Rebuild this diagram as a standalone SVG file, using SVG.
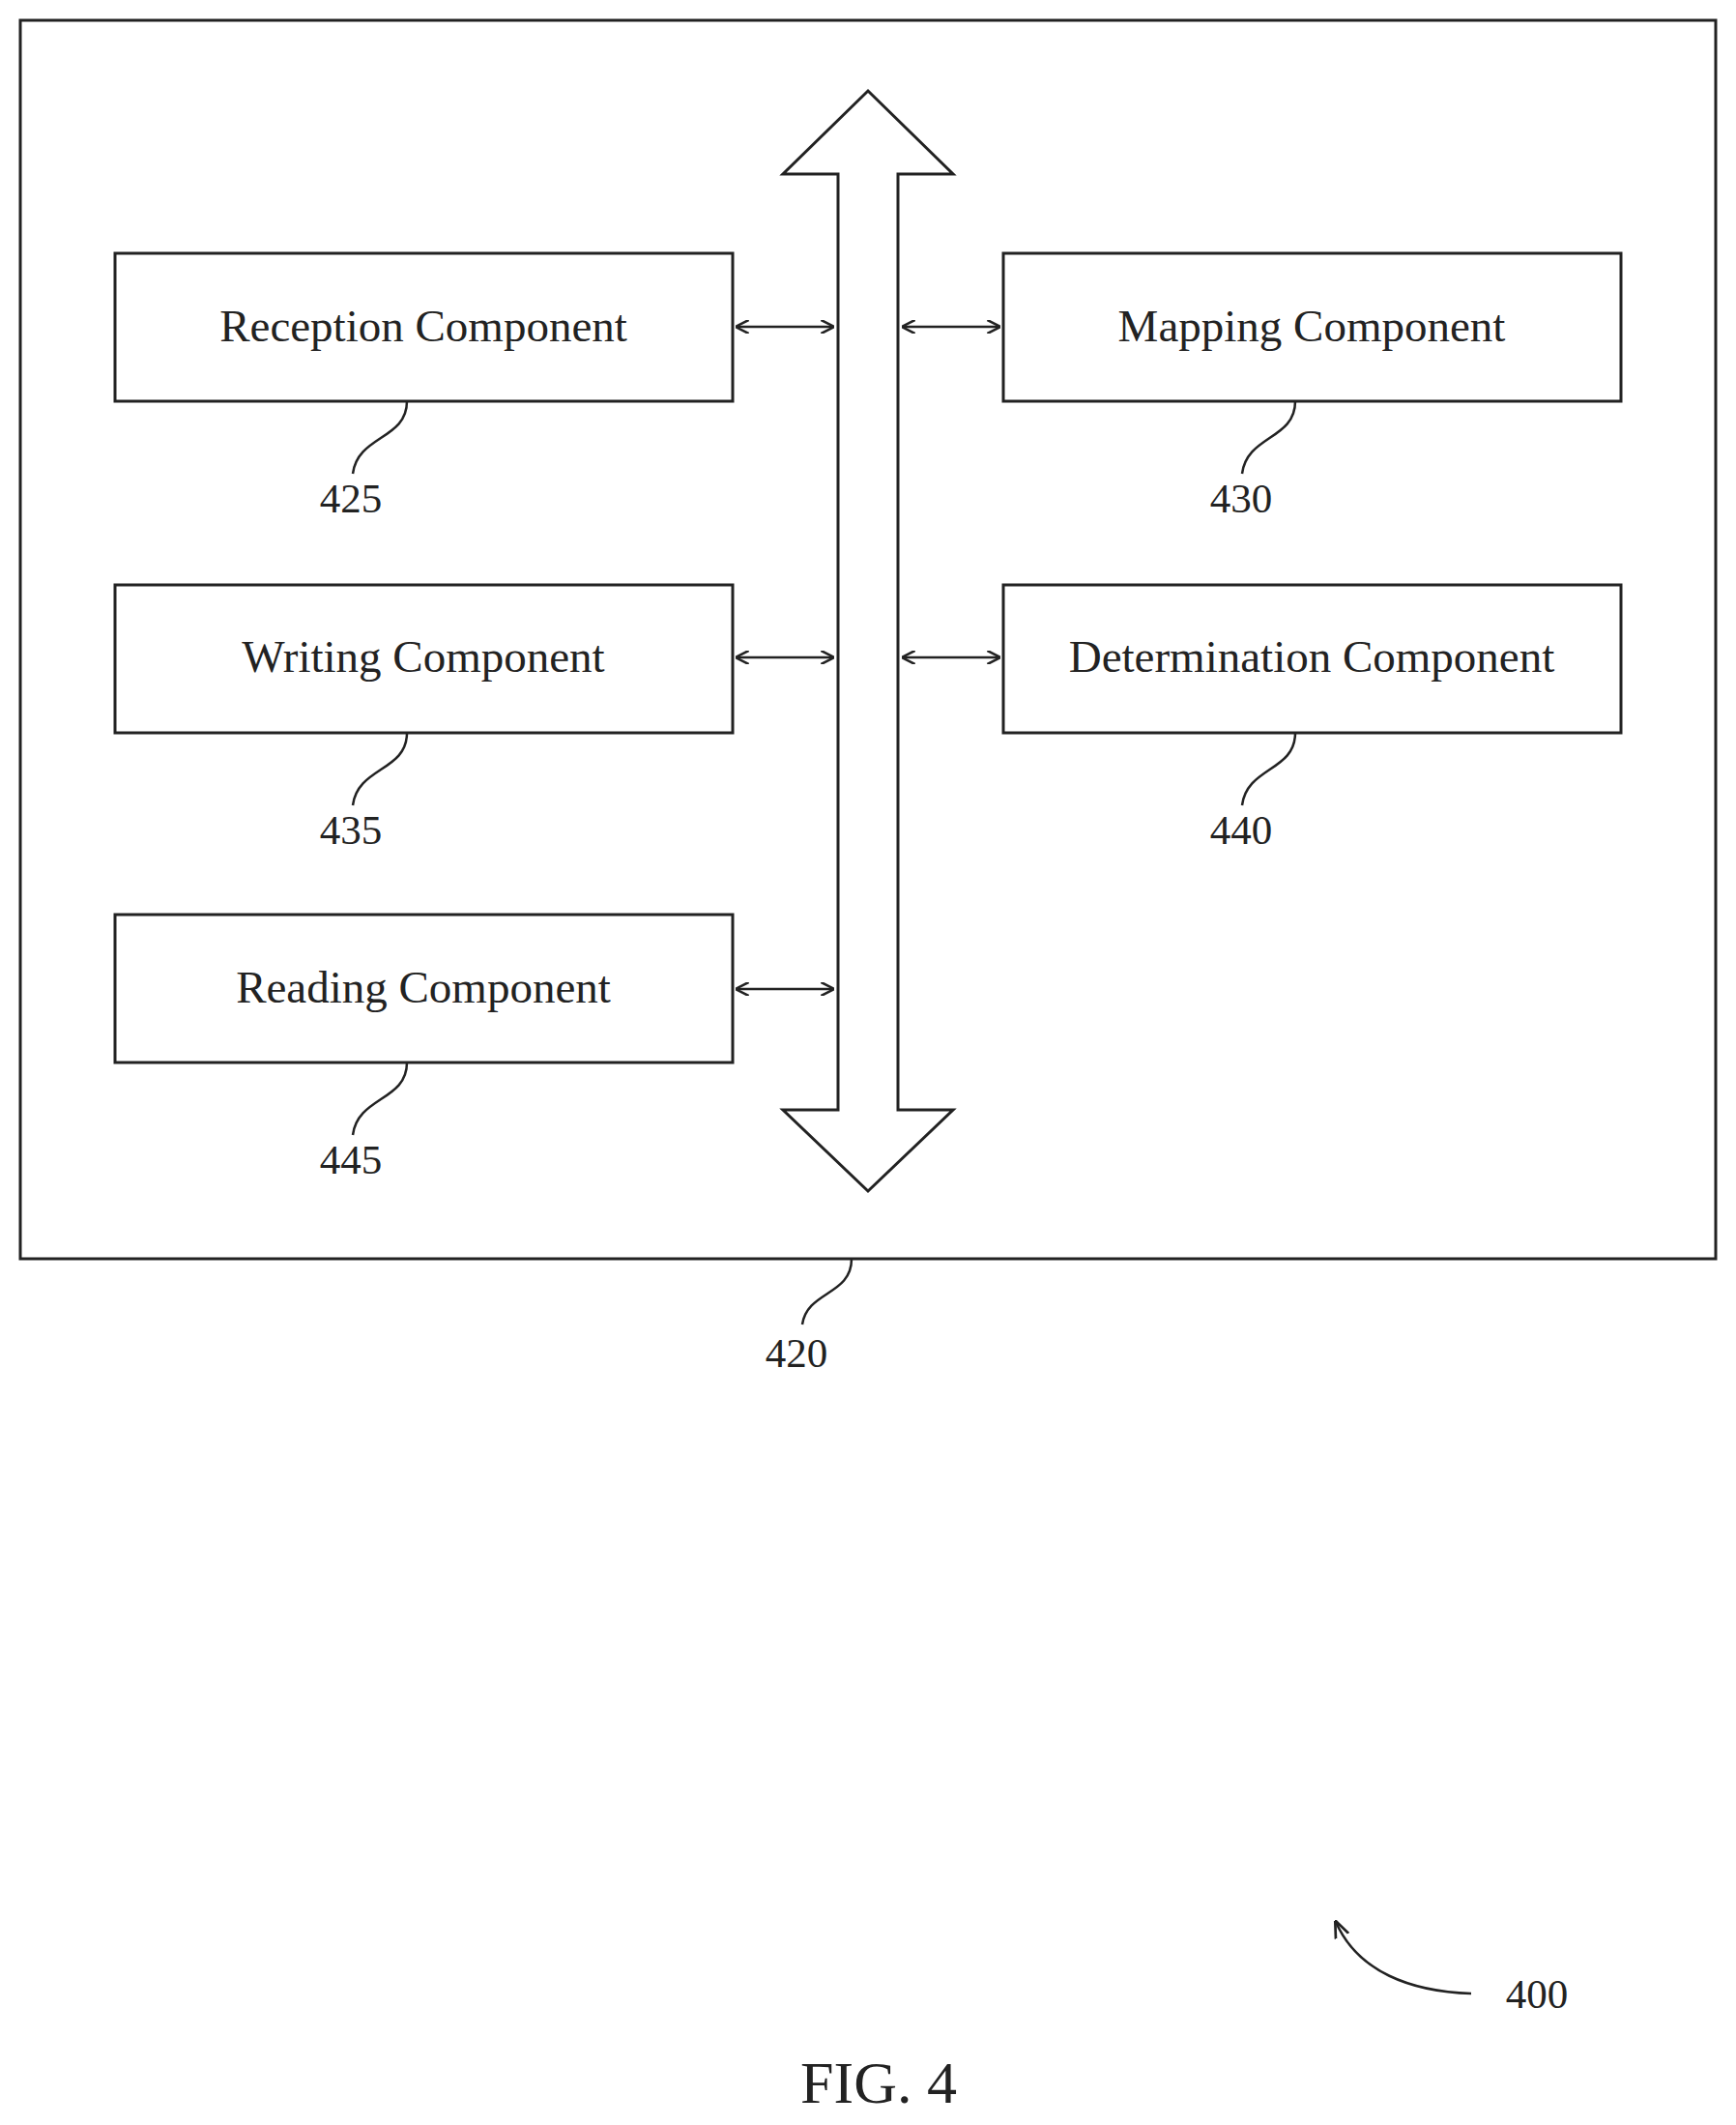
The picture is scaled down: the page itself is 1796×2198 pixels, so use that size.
<svg xmlns="http://www.w3.org/2000/svg" width="1796" height="2198" viewBox="0 0 1796 2198">
<style>
.b{fill:#fff;stroke:#222;stroke-width:3}
.t{font-family:"Liberation Serif",serif;font-size:47px;fill:#222;text-anchor:middle}
.n{font-family:"Liberation Serif",serif;font-size:43px;fill:#222;text-anchor:middle}
.l{fill:none;stroke:#222;stroke-width:2.5}
</style>
<defs>
<marker id="a" viewBox="0 0 10 10" refX="9" refY="5" markerWidth="14" markerHeight="14" orient="auto-start-reverse" markerUnits="userSpaceOnUse"><path d="M0,0 L10,5 L0,10" fill="none" stroke="#222" stroke-width="1.8"/></marker>
<marker id="h" viewBox="0 0 10 10" refX="9" refY="5" markerWidth="18" markerHeight="18" orient="auto" markerUnits="userSpaceOnUse"><path d="M0,1 L10,5 L0,9" fill="none" stroke="#222" stroke-width="1.5"/></marker>
</defs>
<rect width="1796" height="2198" fill="#fff"/>
<g id="n420"><rect class="b" x="21" y="21" width="1754" height="1281"/>
<path class="l" d="M881,1302 C881,1340 835,1335 830,1370"/><text class="n" x="824" y="1414">420</text></g>
<g id="bus"><path class="b" d="M898,94 L986,180 L929,180 L929,1148 L986,1148 L898,1232 L810,1148 L867,1148 L867,180 L810,180 Z"/></g>
<g id="n425"><rect class="b" x="119" y="262" width="639" height="153"/><text class="t" x="438" y="353">Reception Component</text>
<path class="l" d="M421,415 C421,455 370,450 365,490"/><text class="n" x="363" y="530">425</text></g>
<g id="n435"><rect class="b" x="119" y="605" width="639" height="153"/><text class="t" x="438" y="695">Writing Component</text>
<path class="l" d="M421,758 C421,798 370,793 365,833"/><text class="n" x="363" y="873">435</text></g>
<g id="n445"><rect class="b" x="119" y="946" width="639" height="153"/><text class="t" x="438" y="1037">Reading Component</text>
<path class="l" d="M421,1099 C421,1139 370,1134 365,1174"/><text class="n" x="363" y="1214">445</text></g>
<g id="n430"><rect class="b" x="1038" y="262" width="639" height="153"/><text class="t" x="1357" y="353">Mapping Component</text>
<path class="l" d="M1340,415 C1340,455 1290,450 1285,490"/><text class="n" x="1284" y="530">430</text></g>
<g id="n440"><rect class="b" x="1038" y="605" width="639" height="153"/><text class="t" x="1357" y="695">Determination Component</text>
<path class="l" d="M1340,758 C1340,798 1290,793 1285,833"/><text class="n" x="1284" y="873">440</text></g>
<g id="connectors">
<line class="l" x1="762" y1="338" x2="862" y2="338" marker-start="url(#a)" marker-end="url(#a)"/>
<line class="l" x1="762" y1="680" x2="862" y2="680" marker-start="url(#a)" marker-end="url(#a)"/>
<line class="l" x1="762" y1="1023" x2="862" y2="1023" marker-start="url(#a)" marker-end="url(#a)"/>
<line class="l" x1="934" y1="338" x2="1034" y2="338" marker-start="url(#a)" marker-end="url(#a)"/>
<line class="l" x1="934" y1="680" x2="1034" y2="680" marker-start="url(#a)" marker-end="url(#a)"/>
</g>
<g id="n400"><path class="l" d="M1522,2062 C1460,2060 1405,2040 1382,1988" marker-end="url(#h)"/><text class="n" x="1590" y="2077">400</text></g>
<text x="909" y="2175" style="font-family:'Liberation Serif',serif;font-size:62px;fill:#222;text-anchor:middle">FIG. 4</text>
</svg>
